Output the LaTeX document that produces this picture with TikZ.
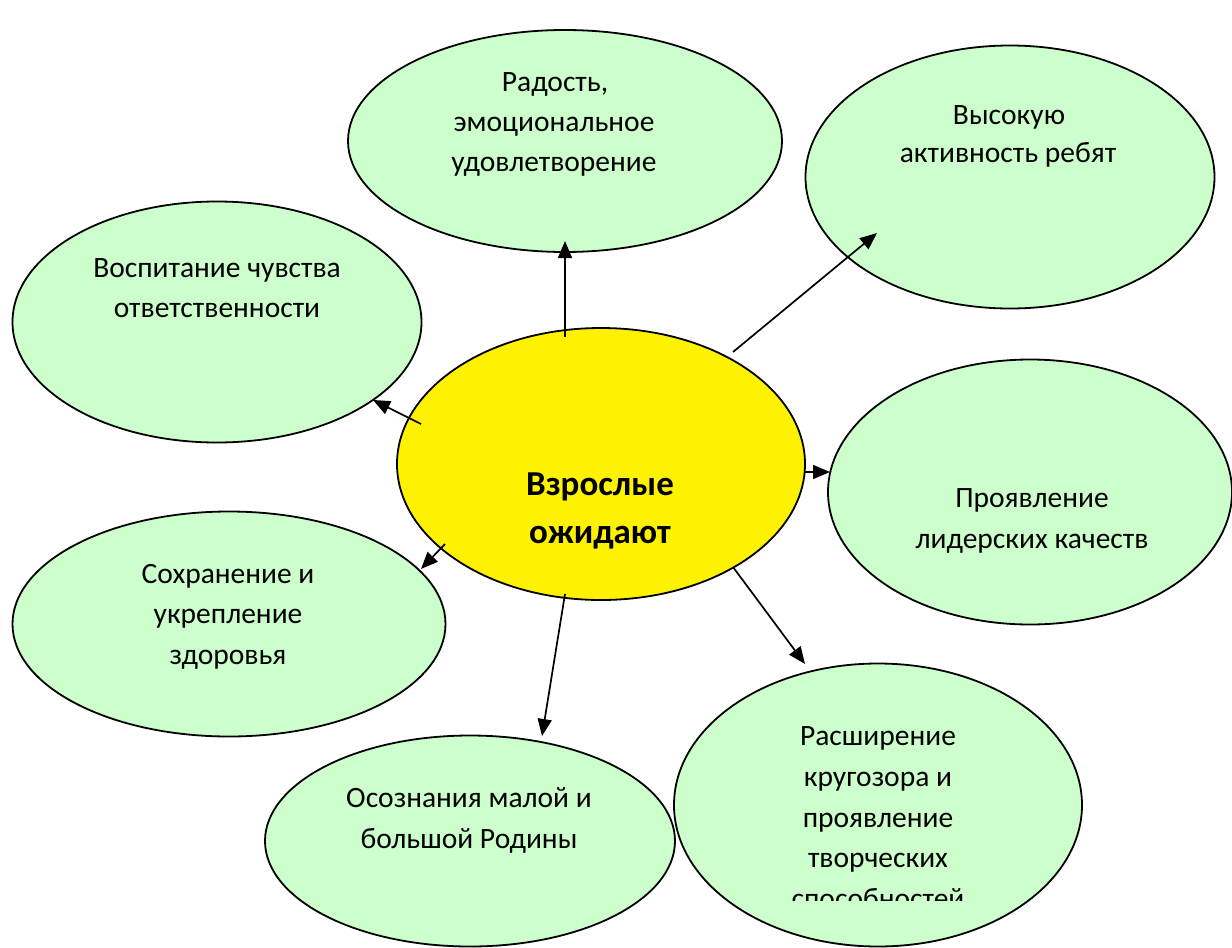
\documentclass[tikz,border=0pt]{standalone}
\usepackage{fontspec}
\setmainfont{Carlito}
\usetikzlibrary{shapes.geometric,arrows.meta}
\begin{document}
\begin{tikzpicture}[x=1pt,y=-1pt,
  bubble/.style={ellipse,draw=black,line width=1.8pt,inner sep=0pt},
  center/.style={ellipse,draw=black,line width=1.8pt,fill=yellow,inner sep=0pt},
  txt/.style={anchor=base,inner sep=0pt,font=\fontsize{29.5}{40}\selectfont},
  btxt/.style={anchor=base,inner sep=0pt,font=\fontsize{35}{48}\selectfont\bfseries},
  conn/.style={line width=1.7pt,-{Triangle[length=17pt,width=14pt]}}]
\useasboundingbox (0,0) rectangle (1232,948);
\definecolor{lgreen}{HTML}{CCFFCC}
\tikzset{bubble/.append style={fill=lgreen}}
% ellipses
\node[bubble,minimum width=434pt,minimum height=222pt] (joy) at (565,141) {};
\node[bubble,minimum width=409pt,minimum height=263pt] (act) at (1010,177) {};
\node[bubble,minimum width=409pt,minimum height=241pt] (resp) at (217,322) {};
\node[bubble,minimum width=404pt,minimum height=265pt] (lead) at (1030,492) {};
\node[bubble,minimum width=433pt,minimum height=225pt] (health) at (229,624) {};
\node[bubble,minimum width=410pt,minimum height=211pt] (home) at (470,841) {};
\node[bubble,minimum width=408pt,minimum height=283pt] (wide) at (878,805) {};
\node[center,minimum width=408pt,minimum height=272pt] (adult) at (601,464) {};
% texts
\node[txt] (joy1) at (555,91) {Радость,};
\node[txt] (joy2) at (554,131) {эмоциональное};
\node[txt] (joy3) at (554,171) {удовлетворение};
\node[txt] (act1) at (1009,124) {Высокую};
\node[txt] (act2) at (1008,162) {активность ребят};
\node[txt] (resp1) at (217,277) {Воспитание чувства};
\node[txt] (resp2) at (217,317) {ответственности};
\node[txt] (lead1) at (1032,507) {Проявление};
\node[txt] (lead2) at (1032,548) {лидерских качеств};
\node[txt] (health1) at (228,583) {Сохранение и};
\node[txt] (health2) at (228,623) {укрепление};
\node[txt] (health3) at (228,664) {здоровья};
\node[txt] (home1) at (469,807) {Осознания малой и};
\node[txt] (home2) at (469,848) {большой Родины};
\begin{scope}
\clip (674,640) rectangle (1082,900);
\node[txt] (wide1) at (878,745) {Расширение};
\node[txt] (wide2) at (878,786) {кругозора и};
\node[txt] (wide3) at (878,827) {проявление};
\node[txt] (wide4) at (878,867) {творческих};
\node[txt] (wide5) at (878,908) {способностей};
\end{scope}
\node[btxt] (adult1) at (600,495) {Взрослые};
\node[btxt] (adult2) at (600,543) {ожидают};
% connector end points
\coordinate (s1) at (565,337); \coordinate (e1) at (565,241);
\coordinate (s2) at (733,352); \coordinate (e2) at (877,233);
\coordinate (s3) at (421,424); \coordinate (e3) at (373,400);
\coordinate (s4) at (445,544); \coordinate (e4) at (421,569);
\coordinate (s5) at (805,472); \coordinate (e5) at (830,472);
\coordinate (s6) at (733,567); \coordinate (e6) at (805,664);
\coordinate (s7) at (565,594); \coordinate (e7) at (542,736);
\draw[conn] (s1) -- (e1);
\draw[conn] (s2) -- (e2);
\draw[conn] (s3) -- (e3);
\draw[conn] (s4) -- (e4);
\draw[conn] (s5) -- (e5);
\draw[conn] (s6) -- (e6);
\draw[conn] (s7) -- (e7);
\end{tikzpicture}
\end{document}
